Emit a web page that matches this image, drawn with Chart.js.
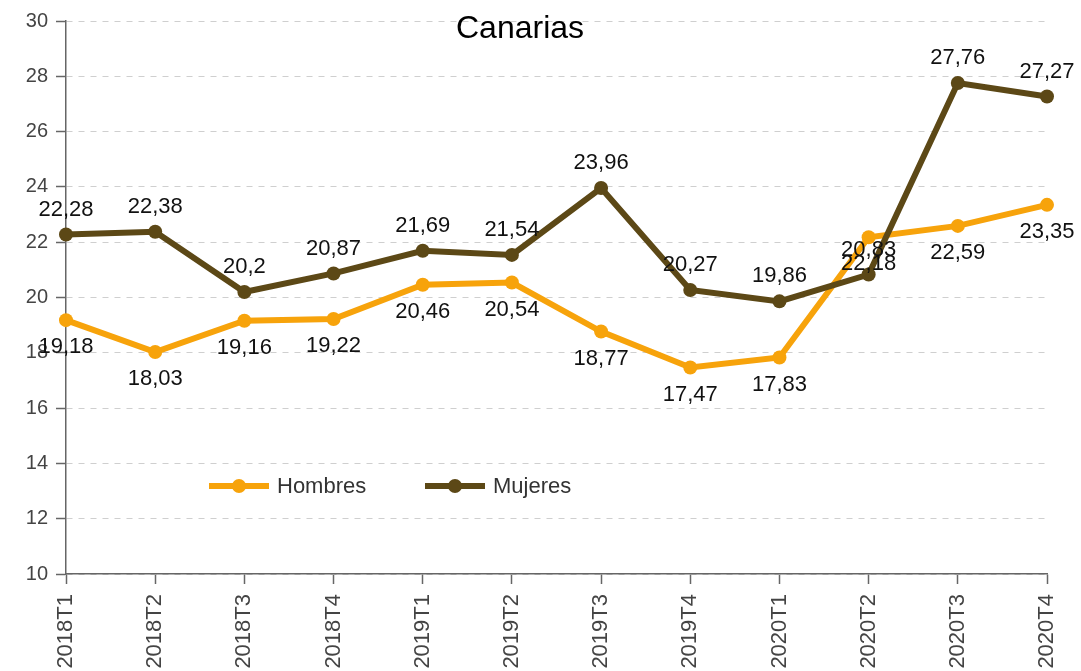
<!DOCTYPE html>
<html>
<head>
<meta charset="utf-8">
<title>Canarias</title>
<script src="https://cdn.jsdelivr.net/npm/chart.js@4/dist/chart.umd.min.js"></script>
<style>
  html, body { margin: 0; padding: 0; background: #fff; }
  canvas { display: block; }
</style>
</head>
<body>
<canvas id="chart" width="1081" height="671"></canvas>
<script>
// Quarterly series for the Canary Islands
const categories = ['2018T1', '2018T2', '2018T3', '2018T4', '2019T1', '2019T2',
                    '2019T3', '2019T4', '2020T1', '2020T2', '2020T3', '2020T4'];
const hombres = [19.18, 18.03, 19.16, 19.22, 20.46, 20.54, 18.77, 17.47, 17.83, 22.18, 22.59, 23.35];
const mujeres = [22.28, 22.38, 20.2, 20.87, 21.69, 21.54, 23.96, 20.27, 19.86, 20.83, 27.76, 27.27];
const yTicks = [10, 12, 14, 16, 18, 20, 22, 24, 26, 28, 30];

const FONT = '"Liberation Sans", Arial, sans-serif';
const ORANGE = '#F7A30B';
const BROWN = '#5C4816';

const fmt = v => String(v).replace('.', ',');

// Value labels: first series below its points, second series above
const valueLabels = {
  id: 'valueLabels',
  afterDatasetsDraw(chart) {
    const ctx = chart.ctx;
    ctx.save();
    ctx.font = '22px ' + FONT;
    ctx.fillStyle = '#111';
    ctx.textAlign = 'center';
    ctx.textBaseline = 'middle';
    chart.data.datasets.forEach((ds, di) => {
      const meta = chart.getDatasetMeta(di);
      const dy = di === 0 ? 27 : -25;
      meta.data.forEach((pt, i) => {
        ctx.fillText(fmt(ds.data[i]), pt.x, pt.y + dy);
      });
    });
    ctx.restore();
  }
};

// Title and legend drawn over the plot area
const overlay = {
  id: 'overlay',
  afterDraw(chart) {
    const ctx = chart.ctx;
    const area = chart.chartArea;
    ctx.save();
    ctx.font = '32px ' + FONT;
    ctx.fillStyle = '#000';
    ctx.textAlign = 'center';
    ctx.textBaseline = 'alphabetic';
    ctx.fillText('Canarias', 520, 38);

    const ly = 486;
    const starts = [area.left + 143, area.left + 359];
    chart.data.datasets.forEach((ds, di) => {
      const x0 = starts[di];
      ctx.strokeStyle = ds.borderColor;
      ctx.lineWidth = 6;
      ctx.beginPath();
      ctx.moveTo(x0, ly);
      ctx.lineTo(x0 + 60, ly);
      ctx.stroke();
      ctx.fillStyle = ds.borderColor;
      ctx.beginPath();
      ctx.arc(x0 + 30, ly, 7, 0, Math.PI * 2);
      ctx.fill();
      ctx.font = '22px ' + FONT;
      ctx.fillStyle = '#333';
      ctx.textAlign = 'left';
      ctx.textBaseline = 'middle';
      ctx.fillText(ds.label, x0 + 68, ly + 1);
    });
    ctx.restore();
  }
};

new Chart(document.getElementById('chart'), {
  type: 'line',
  data: {
    labels: categories,
    datasets: [
      {
        label: 'Hombres',
        data: hombres,
        borderColor: ORANGE,
        backgroundColor: ORANGE,
        borderWidth: 6,
        pointRadius: 7,
        pointHoverRadius: 7,
        pointBorderWidth: 0,
        pointBackgroundColor: ORANGE,
        tension: 0,
        order: 1
      },
      {
        label: 'Mujeres',
        data: mujeres,
        borderColor: BROWN,
        backgroundColor: BROWN,
        borderWidth: 6,
        pointRadius: 7,
        pointHoverRadius: 7,
        pointBorderWidth: 0,
        pointBackgroundColor: BROWN,
        tension: 0,
        order: 0
      }
    ]
  },
  options: {
    responsive: false,
    animation: false,
    events: [],
    layout: { padding: { top: 21, right: 34, left: 0, bottom: 0 } },
    plugins: {
      legend: { display: false },
      title: { display: false },
      tooltip: { enabled: false }
    },
    scales: {
      x: {
        offset: false,
        grid: {
          display: true,
          drawOnChartArea: false,
          drawTicks: true,
          tickLength: 10,
          tickColor: '#666',
          tickWidth: 1.5
        },
        border: { display: true, color: '#666', width: 1.5 },
        ticks: {
          minRotation: 90,
          maxRotation: 90,
          autoSkip: false,
          padding: 10,
          color: '#444',
          font: { family: FONT, size: 22 }
        },
        afterFit(scale) {
          scale.height = 97;
          scale.paddingLeft = 0;
          scale.paddingRight = 0;
        }
      },
      y: {
        min: yTicks[0],
        max: yTicks[yTicks.length - 1],
        afterBuildTicks(scale) { scale.ticks = yTicks.map(v => ({ value: v })); },
        grid: {
          color: '#cfcfcf',
          lineWidth: 1,
          drawTicks: true,
          tickLength: 10,
          tickColor: '#666',
          tickWidth: 1.5,
          tickBorderDash: []
        },
        border: { display: true, color: '#666', width: 1.5, dash: [6, 6] },
        ticks: {
          padding: 8,
          color: '#444',
          font: { family: FONT, size: 20 }
        },
        afterFit(scale) { scale.width = 66; }
      }
    }
  },
  plugins: [valueLabels, overlay]
});
</script>
</body>
</html>
